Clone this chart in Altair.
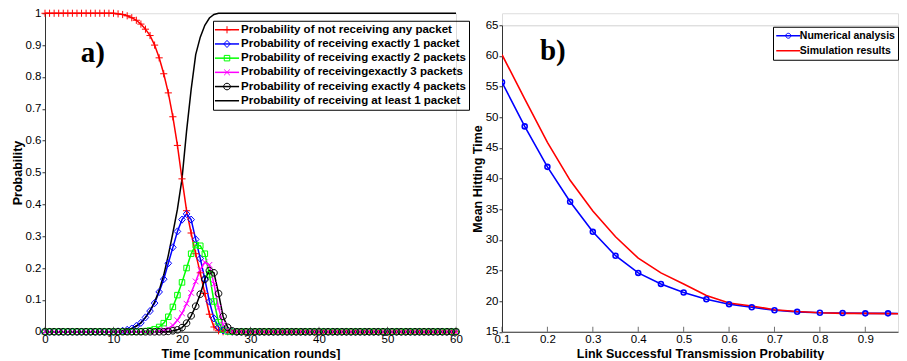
import altair as alt
import pandas as pd

FONT = "Liberation Sans"
SERIF = "Liberation Serif"

# ------------------------------------------------------------------ panel a) data
series_a = [
    "Probability of not receiving any packet",
    "Probability of receiving exactly 1 packet",
    "Probability of receiving exactly 2 packets",
    "Probability of receivingexactly 3 packets",
    "Probability of receiving exactly 4 packets",
    "Probability of receiving at least 1 packet",
]

# time grid (markers every 2/3 round, 0 .. 60)
time_rounds = [k * 2 / 3 for k in range(91)]

p_none = [1.0] * 16 + [0.998, 0.996, 0.992, 0.986, 0.978, 0.966, 0.95, 0.93, 0.90, 0.86,
                       0.81, 0.75, 0.675, 0.585, 0.48, 0.38, 0.31, 0.245, 0.185, 0.12,
                       0.055, 0.015, 0.003] + [0.0] * 52
p_one = [0.0] * 16 + [0.001, 0.003, 0.006, 0.01, 0.018, 0.028, 0.045, 0.065, 0.09, 0.125,
                      0.165, 0.215, 0.265, 0.315, 0.352, 0.37, 0.352, 0.29, 0.23, 0.165,
                      0.095, 0.042, 0.015, 0.004, 0.001] + [0.0] * 50
p_two = [0.0] * 22 + [0.002, 0.004, 0.008, 0.015, 0.027, 0.047, 0.078, 0.115, 0.155, 0.2,
                      0.245, 0.272, 0.27, 0.245, 0.18, 0.095, 0.03, 0.007, 0.001] + [0.0] * 50
p_three = [0.0] * 25 + [0.002, 0.005, 0.01, 0.02, 0.036, 0.058, 0.088, 0.122, 0.158, 0.195,
                        0.218, 0.21, 0.15, 0.075, 0.022, 0.005, 0.001] + [0.0] * 49
p_four = [0.0] * 27 + [0.001, 0.003, 0.006, 0.013, 0.027, 0.05, 0.08, 0.118, 0.165, 0.192,
                       0.185, 0.12, 0.048, 0.014, 0.003] + [0.0] * 49
p_atleast = [0.0] * 16 + [0.001, 0.003, 0.006, 0.01, 0.018, 0.028, 0.045, 0.066, 0.093, 0.13,
                          0.178, 0.24, 0.31, 0.385, 0.48, 0.63, 0.76, 0.87, 0.925, 0.962,
                          0.985, 0.996] + [1.0] * 53
values_a = [p_none, p_one, p_two, p_three, p_four, p_atleast]

x_ticks_a = [0, 10, 20, 30, 40, 50, 60]
y_ticks_a = [0.0, 0.1, 0.2, 0.3, 0.4, 0.5, 0.6, 0.7, 0.8, 0.9, 1.0]

# ------------------------------------------------------------------ panel b) data
series_b = ["Numerical analysis", "Simulation results"]
link_prob = [0.1, 0.15, 0.2, 0.25, 0.3, 0.35, 0.4, 0.45, 0.5, 0.55, 0.6, 0.65, 0.7, 0.75,
             0.8, 0.85, 0.9, 0.95, 1.0]
hit_numerical = [55.7, 48.5, 41.9, 36.2, 31.3, 27.4, 24.6, 22.8, 21.4, 20.3, 19.5, 19.0,
                 18.5, 18.25, 18.1, 18.05, 18.0, 18.0, 17.95]
hit_simulation = [60.2, 53.0, 45.9, 39.7, 34.7, 30.5, 27.0, 24.6, 22.8, 20.9, 19.7, 19.2,
                  18.6, 18.3, 18.1, 18.0, 18.0, 17.95, 17.9]
x_ticks_b = [0.1, 0.2, 0.3, 0.4, 0.5, 0.6, 0.7, 0.8, 0.9]
y_ticks_b = [15, 20, 25, 30, 35, 40, 45, 50, 55, 60, 65]

# ------------------------------------------------------------------ styles
colors_a = ["#ff0000", "#0000ff", "#00ff00", "#ff00ff", "#000000", "#000000"]
markers_a = [
    "M-0.65,0H0.65M0,-0.65V0.65",                              # plus
    "M0,-0.65L0.6,0L0,0.65L-0.6,0Z",                            # diamond
    "M-0.5,-0.5H0.5V0.5H-0.5Z",                                 # square
    "M-0.52,-0.52L0.52,0.52M-0.52,0.52L0.52,-0.52",             # x
    "M0.6,0A0.6,0.6,0,1,1,-0.6,0A0.6,0.6,0,1,1,0.6,0Z",         # circle
]
colors_b = ["#0000ff", "#ff0000"]
markers_b = ["M0.45,0A0.45,0.45,0,1,1,-0.45,0A0.45,0.45,0,1,1,0.45,0Z"]
LINE_SYMBOL = "M-2.3,0H2.3"

# ------------------------------------------------------------------ tables
df_a = pd.DataFrame(
    [{"t": t, "p": v, "series": s}
     for s, vals in zip(series_a, values_a) for t, v in zip(time_rounds, vals)]
)
df_a_pts = df_a[df_a["series"] != series_a[5]]
df_b = pd.DataFrame(
    [{"lp": x, "h": v, "series": s}
     for s, vals in zip(series_b, [hit_numerical, hit_simulation]) for x, v in zip(link_prob, vals)]
)
df_b_pts = df_b[df_b["series"] == series_b[0]]


def axis(**kw):
    base = dict(labelFont=FONT, labelFontSize=11.5, labelColor="black", titleFont=FONT,
                titleFontSize=12.5, titleFontWeight="bold", titleColor="black",
                domainColor="#333333", domainWidth=1, tickColor="#333333", grid=False,
                labelFlush=False, minExtent=0)
    base.update(kw)
    return alt.Axis(**base)


def legend(x, y, fs, rowpad, so, lo, lines=True):
    kw = dict(title=None, orient="none", legendX=x, legendY=y,
              symbolOffset=so, labelOffset=lo, labelFont=FONT, labelFontSize=fs,
              labelFontWeight="bold", labelColor="black", rowPadding=rowpad, padding=3,
              labelLimit=600)
    if lines:
        kw.update(symbolType=LINE_SYMBOL, symbolSize=110, symbolStrokeWidth=1.5,
                  strokeColor="black")
    else:
        kw.update(symbolSize=121, symbolStrokeWidth=1, labelOpacity=0)
    return alt.Legend(**kw)


LEG_A = dict(x=168, y=7.5, fs=11.5, rowpad=2.2, so=5, lo=8)
LEG_B = dict(x=271, y=1.5, fs=10.5, rowpad=3, so=6.3, lo=5.5)

# ------------------------------------------------------------------ panel a)
x_a = alt.X("t:Q", scale=alt.Scale(domain=[0, 60], nice=False, zero=False),
            axis=axis(values=x_ticks_a, format="d", title="Time [communication rounds]",
                      ticks=False, tickSize=0, labelPadding=2, titlePadding=2))
y_a = alt.Y("p:Q", scale=alt.Scale(domain=[0, 1], nice=False),
            axis=axis(values=y_ticks_a, format=".1~f", title="Probability",
                      tickSize=3, labelPadding=1, titlePadding=1))

lines_a = alt.Chart(df_a).mark_line(strokeWidth=1.5).encode(
    x=x_a, y=y_a,
    color=alt.Color("series:N", scale=alt.Scale(domain=series_a, range=colors_a),
                    legend=legend(**LEG_A)),
)
pts_a = alt.Chart(df_a_pts).mark_point(filled=False, size=121, strokeWidth=1, opacity=1).encode(
    x=x_a, y=y_a,
    color=alt.Color("series:N", scale=alt.Scale(domain=series_a[:5], range=colors_a[:5]),
                    legend=legend(**LEG_A, lines=False)),
    shape=alt.Shape("series:N", scale=alt.Scale(domain=series_a[:5], range=markers_a),
                    legend=legend(**LEG_A, lines=False)),
)
ticks_a = alt.Chart(pd.DataFrame({"t": x_ticks_a, "p": [0.0] * len(x_ticks_a)})).mark_tick(
    orient="vertical", size=5, thickness=1, color="#333333", yOffset=-2.5
).encode(x=x_a, y=y_a)
label_a = alt.Chart(pd.DataFrame({"t": [7.0], "p": [0.874], "txt": ["a)"]})).mark_text(
    font=SERIF, fontSize=29, fontWeight="bold", color="black", align="center", baseline="middle"
).encode(x=x_a, y=y_a, text="txt:N")

left = alt.layer(lines_a, pts_a, ticks_a, label_a).resolve_scale(
    color="independent", shape="independent"
).resolve_legend(color="independent", shape="independent").properties(width=411, height=318.5)

# ------------------------------------------------------------------ panel b)
x_b = alt.X("lp:Q", scale=alt.Scale(domain=[0.1, 0.972], nice=False, zero=False),
            axis=axis(values=x_ticks_b, format=".1~f",
                      title="Link Successful Transmission Probability",
                      ticks=False, tickSize=0, labelPadding=2, titlePadding=2))
y_b = alt.Y("h:Q", scale=alt.Scale(domain=[15, 65], nice=False, zero=False),
            axis=axis(values=y_ticks_b, format="d", title="Mean Hitting Time",
                      tickSize=3, labelPadding=1, titlePadding=1))

lines_b = alt.Chart(df_b).mark_line(strokeWidth=1.6, clip=True).encode(
    x=x_b, y=y_b,
    color=alt.Color("series:N", scale=alt.Scale(domain=series_b, range=colors_b),
                    legend=legend(**LEG_B)),
)
pts_b = alt.Chart(df_b_pts).mark_point(filled=False, size=121, strokeWidth=1.6, clip=True,
                                       opacity=1).encode(
    x=x_b, y=y_b,
    color=alt.Color("series:N", scale=alt.Scale(domain=series_b[:1], range=colors_b[:1]),
                    legend=legend(**LEG_B, lines=False)),
    shape=alt.Shape("series:N", scale=alt.Scale(domain=series_b[:1], range=markers_b),
                    legend=legend(**LEG_B, lines=False)),
)
ticks_b = alt.Chart(pd.DataFrame({"lp": x_ticks_b, "h": [15.0] * len(x_ticks_b)})).mark_tick(
    orient="vertical", size=5, thickness=1, color="#333333", yOffset=-2.5
).encode(x=x_b, y=y_b)
label_b = alt.Chart(pd.DataFrame({"lp": [0.212], "h": [60.8], "txt": ["b)"]})).mark_text(
    font=SERIF, fontSize=29, fontWeight="bold", color="black", align="center", baseline="middle"
).encode(x=x_b, y=y_b, text="txt:N")

right = alt.layer(lines_b, pts_b, ticks_b, label_b).resolve_scale(
    color="independent", shape="independent"
).resolve_legend(color="independent", shape="independent").properties(width=396, height=306.5)

spacer = alt.Chart(pd.DataFrame({"a": [0]})).mark_point(opacity=0).encode(
    x=alt.value(0), y=alt.value(0)
).properties(width=396, height=12)

right_col = alt.vconcat(spacer, right, spacing=0, bounds="flush")

chart = alt.hconcat(left, right_col, spacing=46, bounds="flush").properties(
    padding={"left": 2, "top": -1.75, "right": 0, "bottom": 0}
).configure_view(stroke="transparent").configure(font=FONT)

chart.save("out.html", embed_options={"renderer": "svg", "actions": False})
